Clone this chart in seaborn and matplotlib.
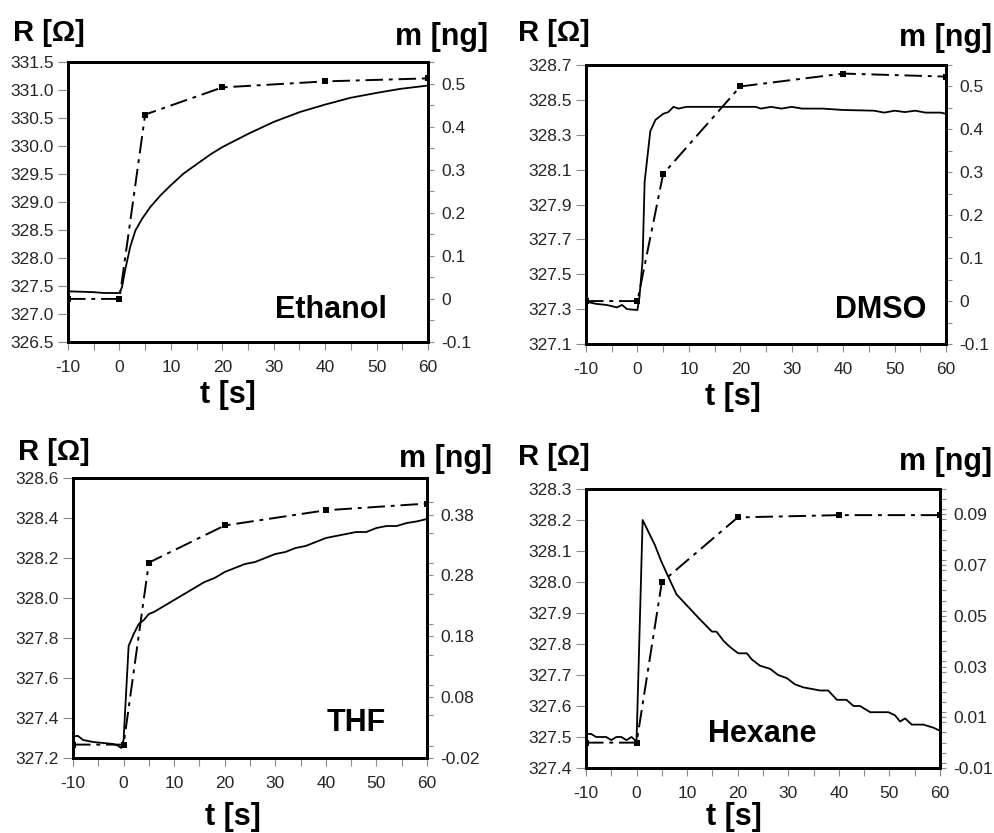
import matplotlib
matplotlib.use("Agg")
import matplotlib.pyplot as plt
import seaborn as sns
import numpy as np
from matplotlib.ticker import FixedLocator, FixedFormatter, FormatStrFormatter, MultipleLocator

# ---------------- data ----------------
t_mass = [-10, 0, 5, 20, 40, 60]

eth_m = [0.0, 0.0, 0.428, 0.491, 0.505, 0.512]
dmso_m = [0.0, 0.0, 0.296, 0.500, 0.530, 0.523]
thf_m = [0.002, 0.002, 0.301, 0.362, 0.387, 0.398]
hex_m = [0.0, 0.0, 0.0633, 0.0888, 0.0897, 0.0897]

eth_t = [-10, -5, -3, 0, 0.5, 1.1, 2.1, 3.1, 4.4, 6, 8, 10, 12.5, 15.1, 17.7, 20,
         25.1, 30, 35.2, 40, 44.9, 50.1, 54.6, 60]
eth_R = [327.405, 327.39, 327.375, 327.375, 327.48, 327.78, 328.20, 328.49, 328.70,
         328.91, 329.12, 329.30, 329.51, 329.68, 329.85, 329.98, 330.22, 330.43,
         330.61, 330.74, 330.86, 330.95, 331.02, 331.08]

dmso_t = [-10, -8, -6, -4, -3, -2, 0, 0.4, 1, 1.4, 2.5, 3.5, 5, 6, 7, 8, 9.5, 23, 24,
          26, 28, 30, 32, 36, 40, 46, 48, 50, 52, 54, 56, 59, 60]
dmso_R = [327.343, 327.33, 327.324, 327.31, 327.324, 327.30, 327.295, 327.37, 327.58,
          328.03, 328.32, 328.385, 328.42, 328.43, 328.46, 328.45, 328.46, 328.46,
          328.45, 328.46, 328.45, 328.46, 328.45, 328.45, 328.442, 328.438, 328.427,
          328.438, 328.43, 328.438, 328.427, 328.427, 328.42]

thf_t = [-10, -9, -8, -6, -4, -2, -1, -0.5, 0, 1, 2, 3, 4, 5, 6, 8, 10, 12, 14, 16, 18,
         20, 22, 24, 26, 28, 30, 32, 34, 36, 38, 40, 42, 44, 46, 48, 50, 52, 54, 56, 58, 60]
thf_R = [327.31, 327.31, 327.29, 327.28, 327.275, 327.27, 327.26, 327.25, 327.29,
         327.76, 327.82, 327.87, 327.89, 327.92, 327.93, 327.96, 327.99, 328.02,
         328.05, 328.08, 328.10, 328.13, 328.15, 328.17, 328.18, 328.20, 328.22,
         328.23, 328.25, 328.26, 328.28, 328.30, 328.31, 328.32, 328.33, 328.33,
         328.35, 328.36, 328.36, 328.375, 328.383, 328.395]

hex_t = [-10, -9, -8, -6, -5, -4, -3, -2, -1, -0.3, 0, 1.2, 3.6, 4.8, 5.9, 7.9, 10.2,
         12.5, 14.9, 15.8, 17.2, 18.5, 20.1, 21.8, 22.8, 24.4, 26.4, 28, 29.7, 31.3,
         33, 36.3, 37.9, 39.6, 41.5, 42.9, 44.2, 46.2, 49.8, 51.1, 52.1, 53.1, 54.4,
         56.7, 58.7, 60]
hex_R = [327.51, 327.51, 327.50, 327.50, 327.49, 327.50, 327.50, 327.49, 327.50,
         327.49, 327.49, 328.20, 328.12, 328.07, 328.03, 327.96, 327.92, 327.88,
         327.84, 327.84, 327.81, 327.79, 327.77, 327.77, 327.75, 327.73, 327.72,
         327.70, 327.69, 327.67, 327.66, 327.65, 327.65, 327.62, 327.62, 327.60,
         327.60, 327.58, 327.58, 327.57, 327.55, 327.56, 327.54, 327.54, 327.53, 327.52]

solvents = ["Ethanol", "DMSO", "THF", "Hexane"]

eth_left_ticks = [326.5, 327.0, 327.5, 328.0, 328.5, 329.0, 329.5, 330.0, 330.5, 331.0, 331.5]
dmso_left_ticks = [327.1, 327.3, 327.5, 327.7, 327.9, 328.1, 328.3, 328.5, 328.7]
thf_left_ticks = [327.2, 327.4, 327.6, 327.8, 328.0, 328.2, 328.4, 328.6]
hex_left_ticks = [327.4, 327.5, 327.6, 327.7, 327.8, 327.9, 328.0, 328.1, 328.2, 328.3]

eth_right_ticks = [-0.1, 0, 0.1, 0.2, 0.3, 0.4, 0.5]
eth_right_labels = ["-0.1", "0", "0.1", "0.2", "0.3", "0.4", "0.5"]
dmso_right_ticks = [-0.1, 0, 0.1, 0.2, 0.3, 0.4, 0.5]
dmso_right_labels = ["-0.1", "0", "0.1", "0.2", "0.3", "0.4", "0.5"]
thf_right_ticks = [-0.02, 0.08, 0.18, 0.28, 0.38]
thf_right_labels = ["-0.02", "0.08", "0.18", "0.28", "0.38"]
hex_right_ticks = [-0.01, 0.01, 0.03, 0.05, 0.07, 0.09]
hex_right_labels = ["-0.01", "0.01", "0.03", "0.05", "0.07", "0.09"]

x_ticks = [-10, 0, 10, 20, 30, 40, 50, 60]

# ---------------- style ----------------
sns.set_theme(style="white")
plt.rcParams['font.family'] = ['Liberation Sans', 'DejaVu Sans']
plt.rcParams['axes.unicode_minus'] = False

W, H = 995, 833
fig = plt.figure(figsize=(W / 100, H / 100), dpi=100)


def px_rect(l, t, r, b):
    return [l / W, 1 - b / H, (r - l) / W, (b - t) / H]


def ftext(x, y, s, ha='left', size=22):
    fig.text(x / W, 1 - y / H, s, ha=ha, va='baseline', fontsize=size,
             fontweight='bold', color='black')


TICK_C = '#8a8a8a'


def panel(rect, tR, R, m, ylimL, lticks, ylimR, rticks, rlabels, rminor, name, lbl):
    ax = fig.add_axes(px_rect(*rect))
    sns.lineplot(x=tR, y=R, ax=ax, color='black', linewidth=1.3, sort=False,
                 estimator=None)
    ax.set_xlim(-10, 60)
    ax.set_ylim(*ylimL)
    ax.xaxis.set_major_locator(FixedLocator(x_ticks))
    ax.xaxis.set_minor_locator(MultipleLocator(5))
    ax.yaxis.set_major_locator(FixedLocator(lticks))
    ax.yaxis.set_major_formatter(FormatStrFormatter('%.1f'))
    ax.set_xlabel('')
    ax.set_ylabel('')
    ax.tick_params(axis='x', which='both', direction='out', length=6, width=0.8,
                   color=TICK_C, pad=7, labelsize=12.5, bottom=True)
    ax.tick_params(axis='y', which='both', direction='out', length=7, width=0.8,
                   color=TICK_C, pad=3, labelsize=12.5, left=True)

    ax2 = ax.twinx()
    sns.lineplot(x=t_mass, y=m, ax=ax2, color='black', linewidth=1.4,
                 linestyle=(0, (9, 3, 2, 3)), marker='s', markersize=4,
                 markeredgewidth=0, markerfacecolor='black', estimator=None)
    ax2.set_ylim(*ylimR)
    ax2.yaxis.set_major_locator(FixedLocator(rticks))
    ax2.yaxis.set_major_formatter(FixedFormatter(rlabels))
    ax2.yaxis.set_minor_locator(MultipleLocator(rminor))
    ax2.set_ylabel('')
    ax2.tick_params(axis='y', which='both', direction='out', length=4, width=0.8,
                    color=TICK_C, pad=5.5, labelsize=12.5, right=True)
    for a in (ax, ax2):
        for sp in a.spines.values():
            sp.set_visible(True)
            sp.set_color('black')
            sp.set_linewidth(2)

    # labels
    ftext(lbl['R'][0], lbl['R'][1], 'R [Ω]', ha='left', size=21)
    ftext(lbl['m'][0], lbl['m'][1], 'm [ng]', ha='right', size=22)
    ftext(lbl['t'][0], lbl['t'][1], 't [s]', ha='center', size=22)
    ftext(lbl['n'][0], lbl['n'][1], name, ha='left', size=22)
    return ax, ax2


panel((68, 62, 428, 342), eth_t, eth_R, eth_m, (326.5, 331.5), eth_left_ticks,
      (-0.1, 0.55), eth_right_ticks, eth_right_labels, 0.05, solvents[0],
      {'R': (13, 41), 'm': (488, 45), 't': (228, 403), 'n': (275, 318)})
panel((586, 65, 946, 344), dmso_t, dmso_R, dmso_m, (327.1, 328.7), dmso_left_ticks,
      (-0.1, 0.55), dmso_right_ticks, dmso_right_labels, 0.05, solvents[1],
      {'R': (518, 41), 'm': (992, 46), 't': (733, 405), 'n': (835, 318)})
panel((73, 478, 427, 758), thf_t, thf_R, thf_m, (327.2, 328.6), thf_left_ticks,
      (-0.02, 0.44), thf_right_ticks, thf_right_labels, 0.05, solvents[2],
      {'R': (18, 460), 'm': (492, 467), 't': (233, 825), 'n': (327, 731)})
panel((586, 489, 940, 768), hex_t, hex_R, hex_m, (327.4, 328.3), hex_left_ticks,
      (-0.01, 0.1), hex_right_ticks, hex_right_labels, 0.004, solvents[3],
      {'R': (518, 465), 'm': (992, 470), 't': (734, 825), 'n': (708, 742)})

fig.savefig('out.png', dpi=100)
